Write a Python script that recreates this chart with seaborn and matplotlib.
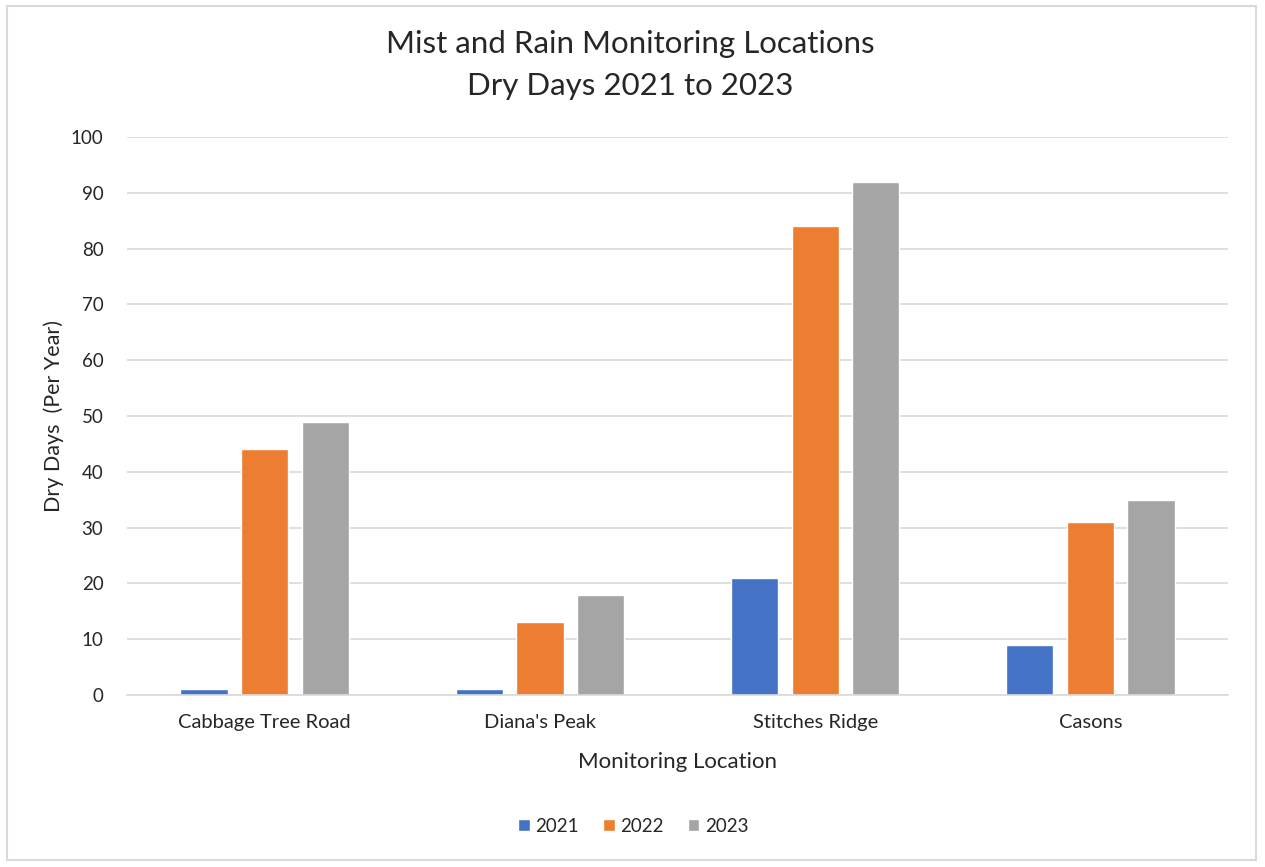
import matplotlib
matplotlib.use('Agg')
import matplotlib.pyplot as plt
import seaborn as sns
import pandas as pd
from matplotlib.patches import Rectangle

# Data
locations = ['Cabbage Tree Road', "Diana's Peak", 'Stitches Ridge', 'Casons']
years = ['2021', '2022', '2023']
dry_2021 = [1, 1, 21, 9]
dry_2022 = [44, 13, 84, 31]
dry_2023 = [49, 18, 92, 35]
colors = ['#4472C4', '#ED7D31', '#A5A5A5']

df = pd.DataFrame({
    'Location': locations * 3,
    'Year': [y for y in years for _ in locations],
    'Days': dry_2021 + dry_2022 + dry_2023,
})

sns.set_style('white')
plt.rcParams['font.family'] = ['Lato', 'DejaVu Sans']

fig = plt.figure(figsize=(12.65, 8.67), dpi=100)
ax = fig.add_axes([0.1004, 0.1984, 0.8704, 0.6436])

sns.barplot(data=df, x='Location', y='Days', hue='Year', order=locations,
            hue_order=years, palette=colors, width=0.66, gap=0.22,
            saturation=1, ax=ax, legend=True)

ax.set_ylim(0, 100)
ax.set_xlim(-0.5, 3.5)
ax.set_yticks(range(0, 101, 10))
ax.yaxis.grid(True, color='#d9d9d9', linewidth=1.2)
ax.set_axisbelow(True)
for s in ['top', 'right', 'left']:
    ax.spines[s].set_visible(False)
ax.spines['bottom'].set_color('#d9d9d9')
ax.spines['bottom'].set_linewidth(1.2)
ax.tick_params(axis='y', length=0, labelsize=13.5, colors='#262626', pad=17)
ax.tick_params(axis='x', length=0, labelsize=14.5, colors='#262626', pad=14)

ax.set_xlabel('Monitoring Location', fontsize=16, color='#262626', labelpad=15)
ax.set_ylabel('Dry Days  (Per Year)', fontsize=15.5, color='#262626', labelpad=5)

fig.text(0.4985, 0.925, 'Mist and Rain Monitoring Locations\nDry Days 2021 to 2023',
         ha='center', va='center', fontsize=22.5, color='#262626', linespacing=1.58)

leg = ax.legend(loc='center', bbox_to_anchor=(0.46, -0.235), ncol=3, frameon=False,
                fontsize=13.5, handlelength=0.6, handleheight=0.6, handletextpad=0.3,
                columnspacing=1.3, labelcolor='#262626')

fig.patches.append(Rectangle((7 / 1265, 7 / 867), 1249 / 1265, 854 / 867,
                             transform=fig.transFigure, fill=False,
                             edgecolor='#d9d9d9', linewidth=1.5))

fig.savefig('out.png', dpi=100)
